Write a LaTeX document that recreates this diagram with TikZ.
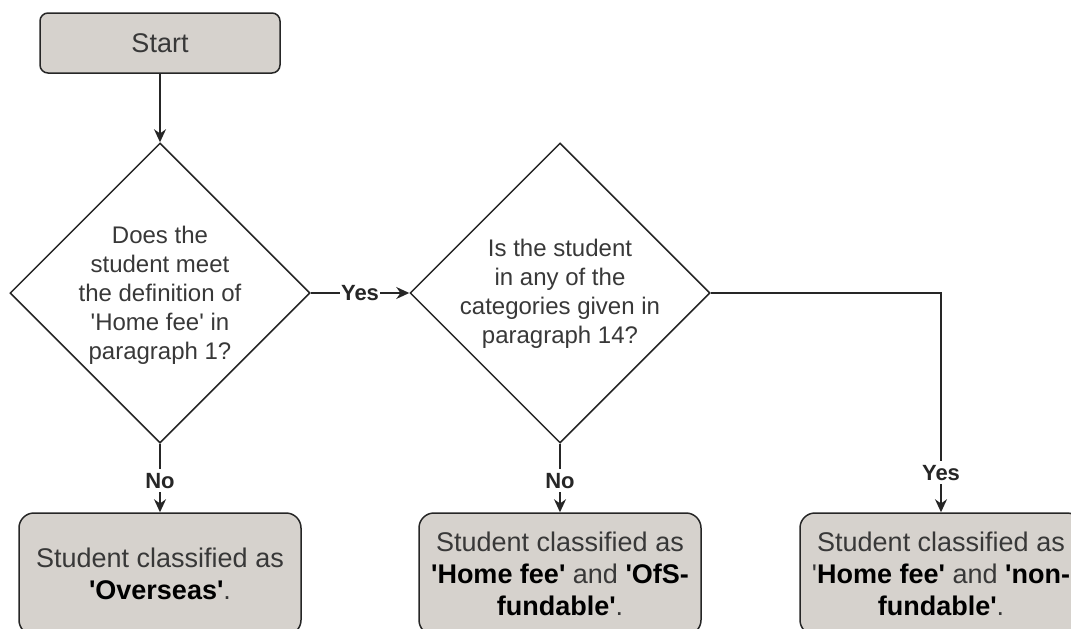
\documentclass[tikz,border=0pt]{standalone}
\usepackage{fontspec}
\setmainfont{Liberation Sans}
\usetikzlibrary{shapes.geometric,arrows.meta}
\definecolor{boxfill}{RGB}{214,210,205}
\colorlet{ecol}{black!85}
\colorlet{tcol}{black!78}
\newcommand{\sq}{\textquotesingle}
\newcommand{\hb}[1]{\textbf{\color{black}#1}}
\tikzstyle{terminal}=[rectangle, draw=ecol, fill=boxfill, rounded corners=8pt, line width=1.5pt, minimum width=240pt, minimum height=60pt, font=\fontsize{27}{32}\selectfont, text=tcol]
\tikzstyle{outcome}=[rectangle, draw=ecol, fill=boxfill, rounded corners=15pt, line width=1.5pt, minimum width=282pt, minimum height=122pt, align=center, font=\fontsize{27}{32}\selectfont, text=tcol]
\tikzstyle{decision}=[diamond, draw=ecol, line width=1.5pt, minimum width=300pt, minimum height=300pt, inner sep=0pt]
\tikzstyle{question}=[align=center, font=\fontsize{24}{29}\selectfont, text=tcol]
\tikzstyle{edge}=[line width=1.5pt, ecol, -{Stealth[length=13pt,width=12pt]}]
\tikzstyle{lbl}=[fill=white, font=\bfseries\fontsize{22}{26}\selectfont, text=black!85, inner xsep=1pt, inner ysep=4pt]

\begin{document}
\begin{tikzpicture}[x=1pt, y=-1pt]
	\useasboundingbox (0,0) rectangle (1071,629);
	\clip (0,0) rectangle (1071,629);

	\node[terminal] (start) at (160, 43) {Start};
	\node[decision] (d1) at (160, 293) {};
	\node[decision] (d2) at (560, 293) {};
	\node[question] (d1t) at (160, 295) {Does the\\student meet\\the definition of\\\sq Home fee\sq{} in\\paragraph 1?};
	\node[question] (d2t) at (560, 294) {Is the student\\in any of the\\categories given in\\paragraph 14?};
	\node[outcome] (o1) at (160, 574) {Student classified as\\\hb{\sq Overseas\sq}.};
	\node[outcome] (o2) at (560, 574) {Student classified as\\\hb{\sq Home fee\sq} and \hb{\sq OfS-}\\\hb{fundable\sq}.};
	\node[outcome] (o3) at (941, 574) {Student classified as\\\sq\hb{Home fee\sq} and \hb{\sq non-}\\\hb{fundable\sq}.};

	% Start
	\draw[edge] (start)--(d1);
	% Yes
	\draw[edge] (d1.east)--node[lbl]{Yes}(d2.west);
	\draw[edge] (d2.east)-|node[lbl, pos=0.91]{Yes}(o3);
	% No
	\draw[edge] (d1.south)--node[lbl, pos=0.54]{No}(o1);
	\draw[edge] (d2.south)--node[lbl, pos=0.54]{No}(o2);
\end{tikzpicture}
\end{document}
